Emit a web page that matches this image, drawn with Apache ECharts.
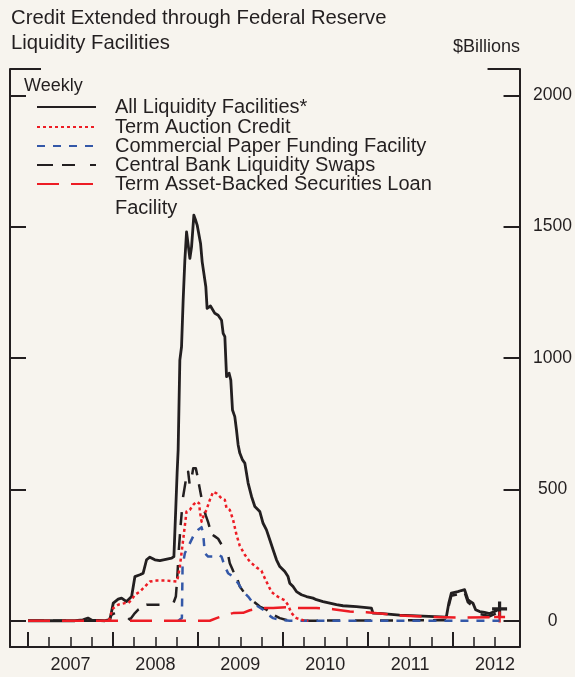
<!DOCTYPE html>
<html>
<head>
<meta charset="utf-8">
<script src="https://cdn.jsdelivr.net/npm/echarts@6/dist/echarts.min.js"></script>
<style>
html, body { margin: 0; padding: 0; background: #f7f4ee; }
#chart { width: 575px; height: 677px; }
</style>
</head>
<body>
<div id="chart"></div>
<script>
// weekly values, $ billions, x = decimal year
const allFacilities = [
    [2007.000, 0], [2007.553, 0], [2007.647, 3], [2007.706, 10], [2007.753, 2], [2007.906, 0],
    [2007.965, 4], [2008.004, 67], [2008.062, 82], [2008.102, 86], [2008.161, 73], [2008.220, 92],
    [2008.259, 168], [2008.318, 175], [2008.356, 181], [2008.396, 232], [2008.435, 242], [2008.494, 232],
    [2008.553, 229], [2008.691, 238], [2008.718, 244], [2008.741, 435], [2008.756, 563], [2008.768, 650],
    [2008.788, 992], [2008.808, 1043], [2008.827, 1220], [2008.847, 1372], [2008.867, 1480], [2008.886, 1474],
    [2008.906, 1379], [2008.926, 1423], [2008.953, 1544], [2008.973, 1525], [2008.992, 1506], [2009.012, 1506],
    [2009.032, 1436], [2009.051, 1366], [2009.071, 1360], [2009.094, 1271], [2009.109, 1189], [2009.149, 1198],
    [2009.200, 1170], [2009.239, 1163], [2009.279, 1144], [2009.298, 1094], [2009.318, 1081], [2009.338, 929],
    [2009.368, 942], [2009.388, 916], [2009.408, 802], [2009.435, 777], [2009.455, 726], [2009.474, 670],
    [2009.494, 638], [2009.526, 612], [2009.553, 600], [2009.592, 524], [2009.632, 473], [2009.671, 435],
    [2009.729, 416], [2009.768, 371], [2009.808, 346], [2009.847, 308], [2009.886, 270], [2009.926, 232],
    [2009.965, 206], [2010.024, 187], [2010.062, 168], [2010.082, 143], [2010.121, 130], [2010.161, 111],
    [2010.220, 99], [2010.279, 92], [2010.356, 86], [2010.396, 80], [2010.474, 73], [2010.553, 67],
    [2010.632, 61], [2010.709, 57], [2010.867, 54], [2011.044, 48], [2011.062, 29], [2011.141, 28],
    [2011.376, 21], [2011.926, 14], [2011.956, 68], [2011.985, 105], [2012.024, 108], [2012.062, 111],
    [2012.102, 115], [2012.141, 118], [2012.161, 111], [2012.180, 80], [2012.208, 73], [2012.239, 67],
    [2012.271, 42], [2012.318, 35], [2012.376, 32], [2012.435, 27], [2012.494, 35], [2012.533, 42],
    [2012.553, 45]
];
const termAuctionCredit = [
    [2007.955, 0], [2007.965, 16], [2008.004, 48], [2008.062, 61], [2008.141, 67], [2008.180, 67],
    [2008.220, 80], [2008.259, 99], [2008.318, 111], [2008.376, 130], [2008.435, 149], [2008.514, 153],
    [2008.631, 153], [2008.756, 149], [2008.788, 206], [2008.827, 308], [2008.867, 416], [2008.906, 422],
    [2008.945, 441], [2008.985, 453], [2009.015, 447], [2009.024, 416], [2009.044, 377], [2009.071, 403],
    [2009.102, 422], [2009.141, 460], [2009.180, 491], [2009.220, 485], [2009.279, 466], [2009.318, 460],
    [2009.338, 428], [2009.376, 422], [2009.415, 384], [2009.455, 327], [2009.494, 285], [2009.553, 251],
    [2009.612, 225], [2009.690, 203], [2009.749, 190], [2009.788, 162], [2009.827, 136], [2009.867, 110],
    [2009.918, 96], [2009.976, 85], [2010.024, 78], [2010.062, 60], [2010.102, 29], [2010.161, 10],
    [2010.239, 2], [2010.300, 0]
];
const commercialPaper = [
    [2008.770, 0], [2008.812, 10], [2008.820, 206], [2008.847, 257], [2008.886, 282], [2008.945, 321],
    [2009.004, 346], [2009.044, 356], [2009.062, 333], [2009.082, 257], [2009.121, 244], [2009.180, 244],
    [2009.239, 251], [2009.279, 244], [2009.318, 206], [2009.356, 181], [2009.415, 168], [2009.474, 143],
    [2009.533, 111], [2009.592, 92], [2009.651, 67], [2009.709, 54], [2009.768, 42], [2009.827, 23],
    [2009.886, 10], [2009.965, 4], [2010.082, 0], [2012.553, 0]
];
const centralBankSwaps = [
    [2007.000, 0], [2007.950, 0], [2007.985, 23], [2008.024, 29], [2008.082, 29], [2008.141, 23],
    [2008.200, 4], [2008.259, 29], [2008.298, 42], [2008.396, 61], [2008.631, 61], [2008.710, 65],
    [2008.741, 92], [2008.756, 156], [2008.776, 270], [2008.796, 359], [2008.827, 473], [2008.859, 536],
    [2008.886, 567], [2008.906, 511], [2008.926, 542], [2008.945, 580], [2008.976, 580], [2008.996, 549],
    [2009.024, 500], [2009.062, 435], [2009.094, 400], [2009.121, 375], [2009.161, 330], [2009.200, 321],
    [2009.239, 312], [2009.279, 290], [2009.318, 262], [2009.356, 250], [2009.376, 219], [2009.415, 190],
    [2009.455, 168], [2009.494, 130], [2009.514, 124], [2009.573, 95], [2009.651, 75], [2009.729, 54],
    [2009.808, 42], [2009.886, 23], [2009.965, 10], [2010.043, 3], [2010.100, 0], [2011.926, 2],
    [2011.956, 58], [2011.985, 95], [2012.024, 98], [2012.062, 101], [2012.102, 105], [2012.141, 108],
    [2012.161, 101], [2012.180, 70], [2012.208, 63], [2012.239, 57], [2012.271, 32], [2012.318, 25],
    [2012.376, 22], [2012.435, 17], [2012.494, 25], [2012.533, 32], [2012.553, 35]
];
const talf = [
    [2007.000, 0], [2009.141, 0], [2009.220, 10], [2009.338, 23], [2009.415, 29], [2009.533, 30],
    [2009.612, 40], [2009.729, 48], [2009.886, 48], [2010.043, 51], [2010.200, 48], [2010.396, 48],
    [2010.592, 44], [2010.788, 35], [2010.985, 32], [2011.180, 27], [2011.376, 20], [2011.765, 14],
    [2012.161, 12], [2012.553, 14]
];

const yearTicks = [2007, 2008, 2009, 2010, 2011, 2012];
const yearLabels = ['2007', '2008', '2009', '2010', '2011', '2012'];
const quarterTicks = [
    2007.25, 2007.5, 2007.75, 2008.25, 2008.5, 2008.75, 2009.25, 2009.5, 2009.75,
    2010.25, 2010.5, 2010.75, 2011.25, 2011.5, 2011.75, 2012.25, 2012.5
];
const valueTicks = [0, 500, 1000, 1500, 2000];

const names = {
    all: 'All Liquidity Facilities*',
    tac: 'Term Auction Credit',
    cpff: 'Commercial Paper Funding Facility',
    swaps: 'Central Bank Liquidity Swaps',
    talf: 'Term Asset-Backed Securities Loan Facility'
};

const ink = '#231f20';
const red = '#ed1c24';
const blue = '#3458a8';
const font = '"Liberation Sans", Arial, sans-serif';

const chart = echarts.init(document.getElementById('chart'));

function lineSeries(name, data, color, width, dash) {
    return {
        type: 'line',
        name: name,
        data: data,
        symbol: 'none',
        showSymbol: false,
        silent: true,
        itemStyle: { color: color },
        lineStyle: { color: color, width: width, type: dash, cap: 'butt', join: 'round' }
    };
}

function crossSeries(point, color, size) {
    return {
        type: 'scatter',
        data: [point],
        silent: true,
        symbol: 'path://M5.5,0h3v14h-3z M0,5.5h14v3h-14z',
        symbolSize: size,
        itemStyle: { color: color, opacity: 1 }
    };
}

const tickStyle = { color: ink, width: 2 };
const xBase = { type: 'value', min: 2006.788, max: 2012.788, position: 'bottom', splitLine: { show: false } };
const yBase = { type: 'value', min: -100, max: 2100, splitLine: { show: false } };

const legendRows = [
    { name: names.all, top: 97 },
    { name: names.tac, top: 117 },
    { name: names.cpff, top: 136 },
    { name: names.swaps, top: 155 }
];
const legendCommon = {
    left: 36,
    padding: 0,
    itemWidth: 59,
    itemHeight: 14,
    selectedMode: false,
    itemStyle: { opacity: 0 }
};
const legends = legendRows.map(row => Object.assign({}, legendCommon, {
    data: [row.name],
    top: row.top,
    textStyle: { fontSize: 20, lineHeight: 20, color: ink, fontFamily: font, padding: [0, 0, 0, 14] }
}));
// empty first line keeps the icon level with "Term Asset-Backed ..." and puts "Facility" below
legends.push(Object.assign({}, legendCommon, {
    data: [names.talf],
    top: 148,
    formatter: () => ' \nTerm Asset-Backed Securities Loan\nFacility',
    textStyle: { fontSize: 20, lineHeight: 24, color: ink, fontFamily: font, padding: [0, 0, 0, 14] }
}));

const option = {
    backgroundColor: '#f7f4ee',
    animation: false,
    title: [
        {
            text: 'Credit Extended through Federal Reserve\nLiquidity Facilities',
            left: 11, top: 6, padding: 0,
            textStyle: { fontSize: 20.3, fontWeight: 'normal', lineHeight: 25, color: ink, fontFamily: font }
        },
        {
            text: '$Billions',
            left: 453, top: 37, padding: 0,
            textStyle: { fontSize: 18, fontWeight: 'normal', lineHeight: 20, color: ink, fontFamily: font }
        },
        {
            text: 'Weekly',
            left: 24, top: 76, padding: 0,
            textStyle: { fontSize: 18, fontWeight: 'normal', lineHeight: 20, color: ink, fontFamily: font }
        }
    ],
    legend: legends,
    grid: { left: 10, right: 55, top: 69, bottom: 30, containLabel: false },
    xAxis: [
        Object.assign({}, xBase, {
            axisLine: { onZero: false, lineStyle: tickStyle },
            axisTick: { inside: true, length: 15, customValues: yearTicks, lineStyle: tickStyle },
            axisLabel: {
                customValues: yearTicks.map(y => y + 0.5),
                formatter: v => yearLabels[Math.floor(v) - yearTicks[0]],
                margin: 9, fontSize: 18, color: ink, fontFamily: font
            }
        }),
        Object.assign({}, xBase, {
            axisLine: { show: false, onZero: false },
            axisTick: { inside: true, length: 10, customValues: quarterTicks, lineStyle: { color: ink, width: 1.5 } },
            axisLabel: { show: false }
        })
    ],
    yAxis: [
        Object.assign({}, yBase, {
            position: 'left',
            axisLine: { show: true, onZero: false, lineStyle: tickStyle },
            axisTick: { show: true, inside: true, length: 16, customValues: valueTicks, lineStyle: tickStyle },
            axisLabel: { show: false }
        }),
        Object.assign({}, yBase, {
            position: 'right',
            axisLine: { show: true, onZero: false, lineStyle: tickStyle },
            axisTick: { show: true, inside: true, length: 16, customValues: valueTicks, lineStyle: tickStyle },
            axisLabel: {
                customValues: valueTicks, align: 'center', margin: 33,
                formatter: v => String(v),
                fontSize: 17.5, color: ink, fontFamily: font
            }
        }),
        Object.assign({}, yBase, {
            position: 'left',
            axisLine: { show: false, onZero: false },
            axisTick: { show: true, inside: true, length: 31, customValues: [2100], lineStyle: tickStyle },
            axisLabel: { show: false }
        }),
        Object.assign({}, yBase, {
            position: 'right',
            axisLine: { show: false, onZero: false },
            axisTick: { show: true, inside: true, length: 32, customValues: [2100], lineStyle: tickStyle },
            axisLabel: { show: false }
        })
    ],
    series: [
        lineSeries(names.swaps, centralBankSwaps, ink, 2.5, [16, 9, 13, 15]),
        lineSeries(names.cpff, commercialPaper, blue, 2.5, [8, 8]),
        lineSeries(names.all, allFacilities, ink, 2.8, 'solid'),
        lineSeries(names.tac, termAuctionCredit, red, 2.5, [3, 3]),
        lineSeries(names.talf, talf, red, 2.5, [22, 12]),
        crossSeries(allFacilities[allFacilities.length - 1], ink, 15),
        crossSeries(talf[talf.length - 1], red, 11)
    ]
};

chart.setOption(option);
</script>
</body>
</html>
